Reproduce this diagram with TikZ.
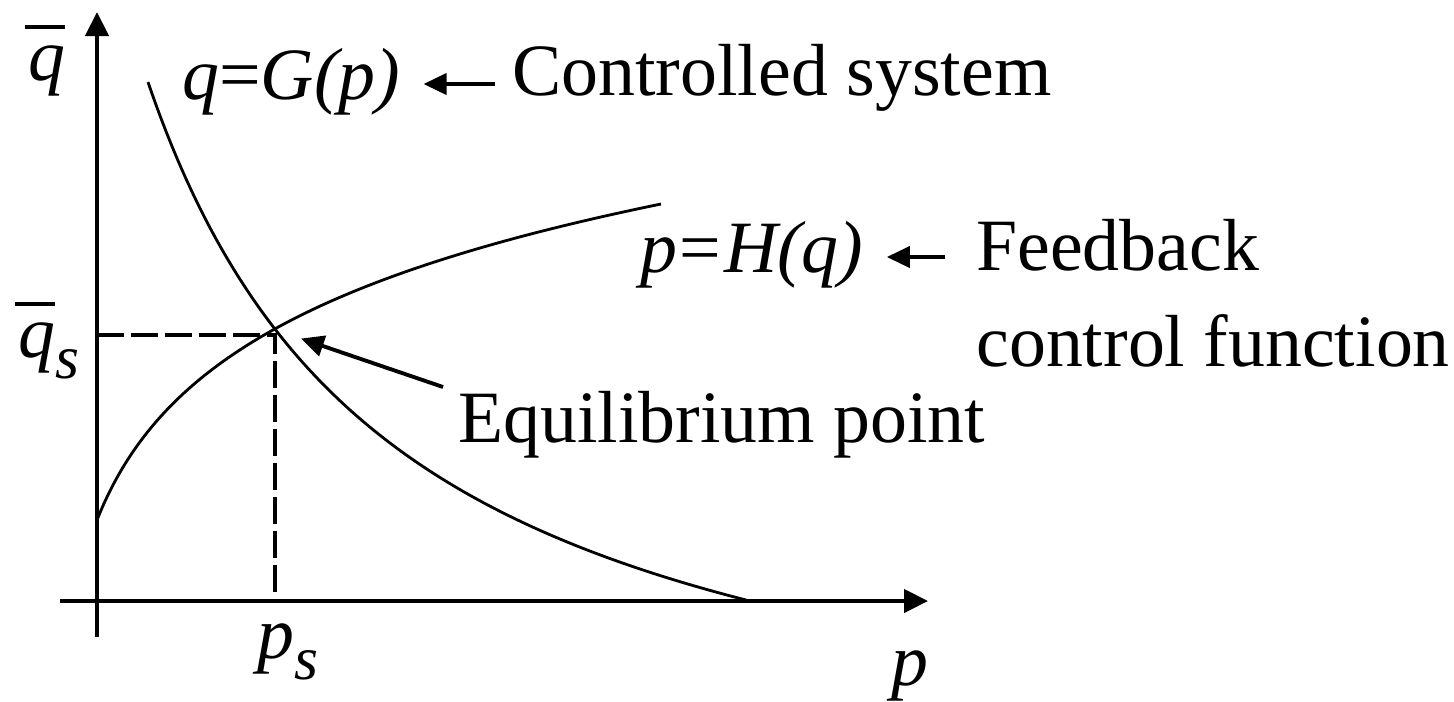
\documentclass[tikz,border=0pt]{standalone}
\usepackage{fontspec}
\setmainfont{Liberation Serif}
\usetikzlibrary{arrows.meta}
\newcommand{\mybarq}{\leavevmode\rlap{\kern-1.7pt\rule[29pt]{22.8pt}{2.3pt}}\textit{q}}
\newcommand{\mysub}[1]{\raisebox{-12pt}{\fontsize{35}{35}\selectfont\textit{#1}}}
\begin{document}
\begin{tikzpicture}[x=0.02cm,y=-0.02cm,
  lbl/.style={inner sep=0pt, anchor=base west, font=\fontsize{42}{50}\selectfont},
  axis/.style={line width=2.5pt, -{Triangle[length=0.48cm,width=0.46cm]}},
  curve/.style={line width=1.6pt},
  guide/.style={line width=2.2pt, dash pattern=on 0.54cm off 0.14cm},
  lblarrow/.style={line width=2.2pt, -{Triangle[length=0.46cm,width=0.42cm]}}]
\useasboundingbox (0,0) rectangle (1454,701);
% axes
\coordinate (O) at (97,601);
\coordinate (ytop) at (97,12);
\coordinate (ybot) at (97,637);
\coordinate (xleft) at (60,601);
\coordinate (xtip) at (928,601);
\draw[axis] (ybot) -- (ytop);
\draw[axis] (xleft) -- (xtip);
% curves
\draw[curve] plot[domain=51:653, samples=100, smooth] ({97+\x},{601-1845.66/((\x+200)/100)+216.4});
\draw[curve] plot[domain=0:564, samples=100, smooth] ({97+\x},{601-81-126*ln(1+\x/50)});
% guides
\coordinate (qs) at (97,335);
\coordinate (psTop) at (275,335);
\coordinate (psBot) at (275,593);
\draw[guide] (qs) -- (psTop) -- (psBot);
\coordinate (eq) at (273,329);
% labels
\node[lbl] (qbar) at (28,80) {\mybarq};
\node[lbl] (qsl) at (18,357) {\mybarq\mysub{s}};
\node[lbl] (psl) at (257,658) {\textit{p}\mysub{s}};
\node[lbl] (pl) at (891,685) {\textit{p}};
\node[lbl] (gp) at (182,99) {\textit{q}=\textit{G(p)}};
\node[lbl] (cs) at (512,95) {Controlled system};
\node[lbl] (hq) at (640,272) {\textit{p}\kern1.5pt=\kern1.5pt\textit{H(q)}};
\node[lbl] (fb) at (976,270) {Feedback};
\node[lbl] (cf) at (976,366) {control function};
\node[lbl] (eqt) at (458,442) {Equilibrium point};
% label arrows
\coordinate (csA) at ([shift={(-17,-11)}]cs.base west);
\draw[lblarrow, shorten >=0.46cm] (csA) -- (csA -| gp.east);
\coordinate (fbA) at ([shift={(-31,-13)}]fb.base west);
\draw[lblarrow, shorten >=0.46cm] (fbA) -- (fbA -| hq.east);
\coordinate (eqA) at ([shift={(-15,-55)}]eqt.base west);
\draw[lblarrow, shorten >=0.59cm] (eqA) -- (eq);
\end{tikzpicture}
\end{document}
